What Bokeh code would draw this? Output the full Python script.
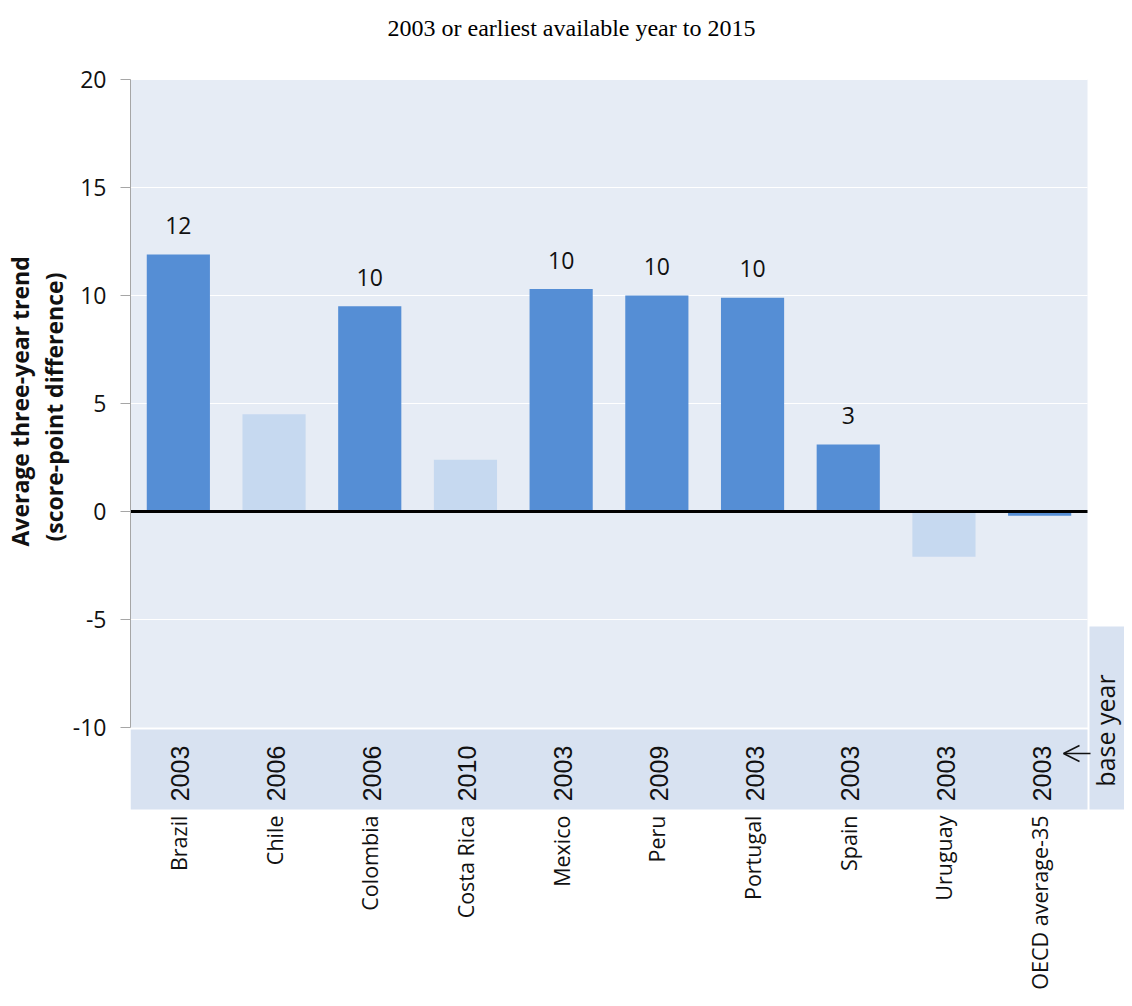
import math
from bokeh.plotting import figure
from bokeh.models import Range1d, FixedTicker, Arrow, OpenHead, ColumnDataSource, Title
from bokeh.core.properties import value
from bokeh.embed import file_html
from bokeh.resources import INLINE

# ---- data ----
countries = ["Brazil", "Chile", "Colombia", "Costa Rica", "Mexico", "Peru",
             "Portugal", "Spain", "Uruguay", "OECD average-35"]
base_years = ["2003", "2006", "2006", "2010", "2003", "2009", "2003", "2003", "2003", "2003"]
trend = [11.9, 4.5, 9.5, 2.4, 10.3, 10.0, 9.9, 3.1, -2.1, -0.2]
significant = [True, False, True, False, True, True, True, True, False, True]
value_labels = ["12", "", "10", "", "10", "10", "10", "3", "", ""]
y_ticks = [-10, -5, 0, 5, 10, 15, 20]

DARK = "#558ED5"
LIGHT = "#C6D9F0"
PLOT_BG = "#E6ECF5"
BAND_BG = "#D8E2F1"

# ---- geometry ----
W, H = 1124, 990
LEFT = 130          # frame left (px)
Y20 = 79            # pixel row of the 20 tick
PX_X = 95.7         # pixels per category
PX_Y = 21.6         # pixels per score point
frame_w = W - LEFT
y_top = 20 + Y20 / PX_Y
n = len(countries)

def py(pix):
    return y_top - pix / PX_Y

def px(pix):
    return (pix - LEFT) / PX_X

p = figure(width=W, height=H, output_backend="svg", toolbar_location=None,
           x_range=Range1d(0, frame_w / PX_X),
           y_range=Range1d(y_top - H / PX_Y, y_top),
           x_axis_location=None, min_border_left=LEFT, min_border_top=0,
           min_border_right=0, min_border_bottom=0)
p.outline_line_color = None
p.background_fill_color = "white"
p.border_fill_color = "white"
p.xgrid.visible = False
p.ygrid.visible = False

ymin, ymax = y_ticks[0], y_ticks[-1]

# plot area background
p.quad(left=[0], right=[n], bottom=[ymin], top=[ymax], fill_color=PLOT_BG, line_color=None)
# base-year band
band_bottom = ymin - 82 / PX_Y
p.quad(left=[0], right=[n], bottom=[band_bottom], top=[ymin - 2 / PX_Y], fill_color=BAND_BG, line_color=None)
# band for "base year" annotation
p.quad(left=[n + 2 / PX_X], right=[frame_w / PX_X], bottom=[band_bottom], top=[py(626)],
       fill_color=BAND_BG, line_color=None)

# gridlines
grid_vals = [t for t in y_ticks if t not in (ymin, 0)]
p.segment(x0=[0] * len(grid_vals), x1=[n] * len(grid_vals), y0=grid_vals, y1=grid_vals,
          line_color="white", line_width=1.2)

xs = [i + 0.5 for i in range(n)]
colors = [DARK if s else LIGHT for s in significant]
src = ColumnDataSource(dict(x=xs, top=trend, color=colors, lab=value_labels,
                            year=base_years, country=countries))
p.vbar(x="x", top="top", bottom=0, width=0.66, fill_color="color", line_color=None, source=src)

# zero line
p.line(x=[0, n], y=[0, 0], line_color="black", line_width=3)

# value labels
p.text(x="x", y="top", text="lab", source=src, text_align="center", text_baseline="alphabetic",
       y_offset=-29, text_font=value("Open Sans"), text_font_size="23px", text_color="#111111")

# base years
p.text(x="x", y=ymin - 46 / PX_Y, text="year", source=src, angle=math.pi / 2,
       text_align="center", text_baseline="middle", x_offset=2,
       text_font=value("Liberation Sans"), text_font_size="25px", text_color="#111111")

# country labels
p.text(x="x", y=py(815), text="country", source=src, angle=math.pi / 2,
       text_align="right", text_baseline="middle",
       text_font=value("Open Sans"), text_font_size="21.5px", text_color="#111111")

# base year note
p.text(x=[px(1104)], y=[py(730)], text=["base year"], angle=math.pi / 2,
       text_align="center", text_baseline="middle",
       text_font=value("Open Sans"), text_font_size="25px", text_color="#111111")
p.add_layout(Arrow(end=OpenHead(size=16, line_width=1.5, line_color="#111111"),
                   x_start=px(1090), x_end=px(1063), y_start=py(753), y_end=py(753),
                   line_width=1.5, line_color="#111111"))

# title
p.text(x=[px(571)], y=[py(27)], text=["2003 or earliest available year to 2015"],
       text_align="center", text_baseline="middle", text_font=value("Liberation Serif"),
       text_font_size="24px", text_color="black")

# y axis
ax = p.yaxis[0]
ax.ticker = FixedTicker(ticks=y_ticks)
ax.bounds = (ymin, ymax)
ax.major_label_overrides = {t: str(t) for t in y_ticks}
ax.axis_line_color = "#A6A6A6"
ax.major_tick_line_color = "#A6A6A6"
ax.major_tick_out = 10
ax.major_tick_in = 0
ax.minor_tick_line_color = None
ax.major_label_standoff = 14
ax.major_label_text_font = "Open Sans"
ax.major_label_text_font_size = "23px"
ax.major_label_text_color = "#111111"

# axis title (two lines, stacked outward from the axis)
for txt, off in [("(score-point difference)", 449), ("Average three-year trend", 444)]:
    p.add_layout(Title(text=txt, align="left", offset=off, standoff=0,
                       text_font="Open Sans", text_font_style="bold",
                       text_font_size="23px", text_color="#111111"), "left")

open("out.html", "w").write(file_html(p, INLINE))
